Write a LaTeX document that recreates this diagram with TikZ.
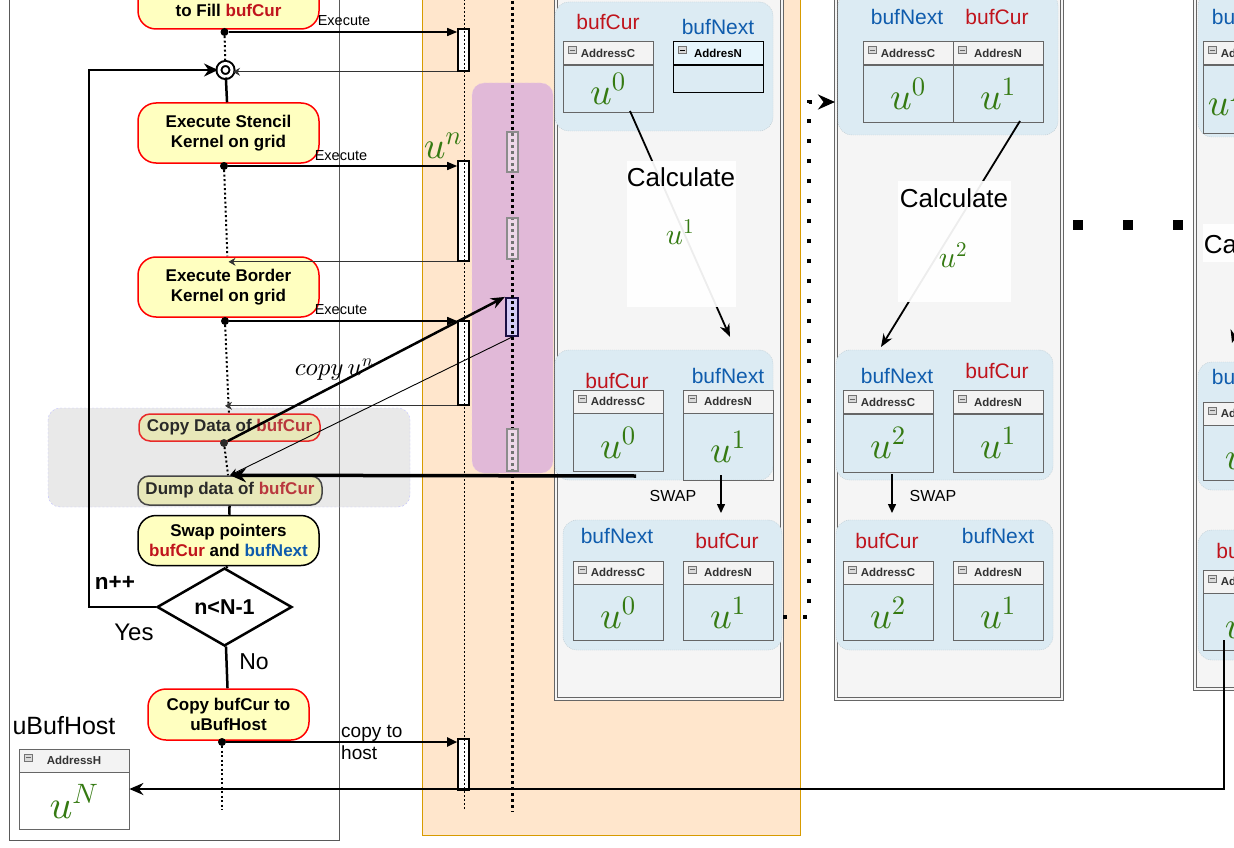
\documentclass[tikz,border=0pt]{standalone}
\usepackage[no-math]{fontspec}
\setmainfont{Liberation Sans}
\usetikzlibrary{arrows.meta,shapes.geometric,positioning}
% scalable math fonts
\DeclareFontShape{OML}{cmm}{m}{it}{<-> cmmi10}{}
\DeclareFontShape{OT1}{cmr}{m}{n}{<-> cmr10}{}
\DeclareFontShape{OMS}{cmsy}{m}{n}{<-> cmsy10}{}

\definecolor{nodeyel}{HTML}{FFFFC0}
\definecolor{curred}{HTML}{C0141C}
\definecolor{nextblue}{HTML}{0F5CAD}
\definecolor{ugreen}{HTML}{357A12}
\definecolor{laneorange}{HTML}{FFE6CC}
\definecolor{laneline}{HTML}{D79B00}
\definecolor{bandpurple}{HTML}{E1B9D8}
\definecolor{panelgray}{HTML}{F5F5F5}
\definecolor{grpblue}{HTML}{DCEBF3}
\definecolor{hdrgray}{HTML}{F3F3F3}
\definecolor{hdrblue}{HTML}{E6F5FC}
\definecolor{tblline}{HTML}{666666}
\definecolor{navy}{HTML}{1A0F45}
\definecolor{lavender}{HTML}{D4CCF5}

\tikzset{
  act/.style={draw=red, line width=1.5pt, fill=nodeyel, rounded corners=18pt, minimum width=181pt, inner sep=0pt, align=center, font=\fontsize{17}{20}\selectfont\bfseries},
  actsm/.style={act, rounded corners=11pt},
  dot/.style={circle, fill=black, inner sep=0pt, minimum size=8pt},
  flowdot/.style={line width=2pt, dash pattern=on 2pt off 2.5pt},
  flow/.style={line width=2.5pt},
  msg/.style={line width=1.5pt, -{Triangle[length=10pt,width=8pt]}},
  ret/.style={line width=0.8pt, draw=black!80, -{Stealth[length=7pt,width=8pt]}},
  lbox/.style={draw, line width=1.6pt, fill=white, minimum width=11pt, inner sep=0pt},
  gbox/.style={draw=black!45, line width=1.6pt, fill=white, fill opacity=0.45, minimum width=11pt, inner sep=0pt},
  panel/.style={draw=tblline, line width=0.8pt, fill=panelgray},
  grp/.style={fill=grpblue, draw=grpblue!85!black, dash pattern=on 1pt off 1pt, rounded corners=14pt, inner sep=0pt},
  bufc/.style={text=curred, font=\fontsize{21}{24}\selectfont, inner sep=0pt},
  bufn/.style={text=nextblue, font=\fontsize{21}{24}\selectfont, inner sep=0pt},
  hdr/.style={draw=tblline, line width=0.8pt, fill=hdrgray, text=black!80, minimum width=90pt, minimum height=23pt, inner sep=0pt,
    font=\fontsize{11.5}{12}\selectfont\bfseries,
    path picture={
      \draw[draw=black!55, fill=black!15, line width=0.6pt] ([shift={(5pt,-5pt)}]path picture bounding box.north west) rectangle ++(8pt,-7pt);
      \draw[line width=0.9pt] ([shift={(6.5pt,-8.5pt)}]path picture bounding box.north west) -- ++(5pt,0pt);
    }},
  hdrsel/.style={hdr, draw=black, fill=hdrblue, text=black},
  cell/.style={draw=tblline, line width=0.8pt, minimum width=90pt, inner sep=0pt, text=ugreen, font=\fontsize{38}{40}\selectfont},
  calcbox/.style={fill=white, fill opacity=0.93, inner sep=0pt},
  calctxt/.style={font=\fontsize{26}{28}\selectfont, inner sep=0pt},
  ulbl/.style={text=ugreen, font=\fontsize{30}{32}\selectfont, inner sep=0pt},
  swaptxt/.style={font=\fontsize{16}{18}\selectfont, inner sep=0pt},
  exe/.style={font=\fontsize{14.5}{16}\selectfont, inner sep=0pt},
  calcarrow/.style={line width=1.8pt, -{Stealth[length=13pt,width=10pt]}},
}

\begin{document}
\begin{tikzpicture}[x=1pt,y=-1pt]
\useasboundingbox (0,0) rectangle (1234,848);
\clip (0,0) rectangle (1234,848);

% lanes
\draw[draw=black!65, line width=0.8pt] (9,-5) rectangle (339,840);
\draw[fill=laneorange, draw=laneline, line width=1pt] (422,-5) rectangle (800,835);
\draw[fill=bandpurple, draw=bandpurple!70!white, dashed, rounded corners=12pt] (472,83) rectangle (553,473);

% device buffers, three steps
\draw[panel] (554,-5) rectangle (783,700);
\draw[draw=tblline, line width=0.8pt] (557,-5) rectangle (780,697);
\draw[panel] (834,-5) rectangle (1063,700);
\draw[draw=tblline, line width=0.8pt] (837,-5) rectangle (1060,697);
\draw[panel] (1193,-5) rectangle (1400,690);
\draw[draw=tblline, line width=0.8pt] (1196,-5) rectangle (1397,687);

\node[grp, minimum width=218pt, minimum height=129pt] (ga1) at (664,66.5) {};
\node[bufc] (ga1cur) at (608,22) {bufCur};
\node[bufn] (ga1next) at (718,27) {bufNext};
\node[hdr] (a1ch) at (608,53) {AddressC};
\node[cell, minimum height=47pt, below=0pt of a1ch] (a1c) {$u^0$};
\node[hdrsel] (a1nh) at (718,53) {AddresN};
\node[cell, draw=black, minimum height=27pt, below=0pt of a1nh] (a1n) {};

\node[grp, minimum width=218pt, minimum height=130pt] (ga2) at (664,415) {};
\node[bufc] (ga2cur) at (617,381) {bufCur};
\node[bufn] (ga2next) at (728,376) {bufNext};
\node[hdr] (a2ch) at (618,401.5) {AddressC};
\node[cell, minimum height=58pt, below=0pt of a2ch] (a2c) {$u^0$};
\node[hdr] (a2nh) at (728,401.5) {AddresN};
\node[cell, minimum height=67pt, below=0pt of a2nh] (a2n) {$u^1$};

\node[grp, minimum width=219pt, minimum height=130pt] (ga3) at (672.5,585) {};
\node[bufn] (ga3next) at (617,536) {bufNext};
\node[bufc] (ga3cur) at (727,541) {bufCur};
\node[hdr] (a3ch) at (618,572.5) {AddressC};
\node[cell, minimum height=56pt, below=0pt of a3ch] (a3c) {$u^0$};
\node[hdr] (a3nh) at (728,572.5) {AddresN};
\node[cell, minimum height=56pt, below=0pt of a3nh] (a3n) {$u^1$};

\node[grp, minimum width=220pt, minimum height=143pt] (gb1) at (948,63.5) {};
\node[bufn] (gb1next) at (907,17) {bufNext};
\node[bufc] (gb1cur) at (997,17) {bufCur};
\node[hdr] (b1ch) at (908,53) {AddressC};
\node[cell, minimum height=57pt, below=0pt of b1ch] (b1c) {$u^0$};
\node[hdr] (b1nh) at (998,53) {AddresN};
\node[cell, minimum height=57pt, below=0pt of b1nh] (b1n) {$u^1$};

\node[grp, minimum width=217pt, minimum height=130pt] (gb2) at (944.5,415) {};
\node[bufn] (gb2next) at (897,376) {bufNext};
\node[bufc] (gb2cur) at (997,371) {bufCur};
\node[hdr] (b2ch) at (888,402) {AddressC};
\node[cell, minimum height=58pt, below=0pt of b2ch] (b2c) {$u^2$};
\node[hdr] (b2nh) at (998,402) {AddresN};
\node[cell, minimum height=58pt, below=0pt of b2nh] (b2n) {$u^1$};

\node[grp, minimum width=217pt, minimum height=130pt] (gb3) at (944.5,585) {};
\node[bufc] (gb3cur) at (887,541) {bufCur};
\node[bufn] (gb3next) at (998,536) {bufNext};
\node[hdr] (b3ch) at (888,572.5) {AddressC};
\node[cell, minimum height=56pt, below=0pt of b3ch] (b3c) {$u^2$};
\node[hdr] (b3nh) at (998,572.5) {AddresN};
\node[cell, minimum height=56pt, below=0pt of b3nh] (b3n) {$u^1$};

\node[grp, minimum width=218pt, minimum height=145pt] (gc1) at (1307,64.5) {};
\node[bufn] (gc1next) at (1248,17) {bufNext};
\node[hdr] (c1ch) at (1248,53) {AddressC};
\node[cell, minimum height=68pt, below=0pt of c1ch] (c1c) {$u^{N-1}$};
\node[grp, minimum width=218pt, minimum height=128pt] (gc2) at (1307,426) {};
\node[bufn] (gc2next) at (1248,377) {bufNext};
\node[hdr] (c2ch) at (1248,413.5) {AddressC};
\node[cell, minimum height=55pt, below=0pt of c2ch] (c2c) {$u^N$};
\node[grp, minimum width=218pt, minimum height=130pt] (gc3) at (1307,595) {};
\node[bufc] (gc3cur) at (1248,551) {bufCur};
\node[hdr] (c3ch) at (1248,581.5) {AddressC};
\node[cell, minimum height=57pt, below=0pt of c3ch] (c3c) {$u^N$};

% calculate steps
\coordinate (a1out) at (630,111);
\coordinate (a2in) at (730,337);
\coordinate (b1out) at (1020,121);
\coordinate (b2in) at (881,347);
\coordinate (c1out) at (1290,130);
\coordinate (c2in) at (1232,343);
\draw[calcarrow] (a1out) -- (a2in);
\draw[calcarrow] (b1out) -- (b2in);
\draw[calcarrow] (c1out) -- (c2in);
\node[calcbox, minimum width=109pt, minimum height=146pt] (calcA) at (681.5,234) {};
\node[calctxt] (calcAt) at (681,177) {Calculate};
\node[ulbl] (calcAu) at (680,232) {$u^1$};
\node[calcbox, minimum width=113pt, minimum height=121pt] (calcB) at (954.5,241.5) {};
\node[calctxt] (calcBt) at (954,198) {Calculate};
\node[ulbl] (calcBu) at (953,255) {$u^2$};
\node[calcbox, minimum width=110pt, minimum height=38pt] (calcC) at (1258,243) {};
\node[calctxt] (calcCt) at (1258,244) {Calculate};

% swaps
\coordinate (swapA1) at (721,475);
\coordinate (swapA2) at (721,513);
\coordinate (swapB1) at (892,474);
\coordinate (swapB2) at (892,513);
\draw[line width=1.5pt, -{Triangle[length=9pt,width=8pt]}] (swapA1) -- (swapA2);
\draw[line width=1.5pt, -{Triangle[length=9pt,width=8pt]}] (swapB1) -- (swapB2);
\node[swaptxt] (swapAt) at (673,496) {SWAP};
\node[swaptxt] (swapBt) at (933,496) {SWAP};

% next iterations
\coordinate (panAexit) at (783,617);
\coordinate (panBentry) at (835,102);
\draw[line width=4pt, dash pattern=on 4pt off 16pt, -{Stealth[length=17pt,width=15pt]}] (panAexit) -- ++(26,0) |- (panBentry);
\coordinate (gapB) at (1073,225);
\coordinate (gapC) at (1183,225);
\draw[line width=10pt, dash pattern=on 10pt off 40pt] (gapB) -- (gapC);

% lifelines
\node[lbox, minimum height=42pt] (act1) at (463.5,50) {};
\node[lbox, minimum height=100pt] (act2) at (463.5,211) {};
\node[lbox, minimum height=84pt] (act3) at (463.5,363) {};
\node[lbox, minimum height=51pt] (act4) at (463.5,764.5) {};
\node[draw=navy, line width=2.2pt, fill=lavender, minimum width=12pt, minimum height=38pt, inner sep=0pt] (actd) at (512,317) {};
\coordinate (ll1top) at (464.5,-5);
\coordinate (ll1end) at (464.5,810);
\coordinate (ll2top) at (512.5,-5);
\coordinate (ll2end) at (512.5,812);
\draw[line width=1.5pt, dash pattern=on 2pt off 2pt] (ll1top) -- (ll1end);
\draw[line width=2.5pt, dash pattern=on 3pt off 3pt] (ll2top) -- (ll2end);
\node[gbox, minimum height=40pt] (gact1) at (512.5,152) {};
\node[gbox, minimum height=41pt] (gact2) at (512.5,238.5) {};
\node[gbox, minimum height=42pt] (gact3) at (512.5,450) {};

% host flow
\node[act, minimum height=52pt] (fill) at (228.5,3) {\strut\\to Fill \textcolor{curred}{bufCur}\strut};
\node[circle, draw, line width=2pt, double, double distance=3pt, fill=white, minimum size=13pt, inner sep=0pt] (merge) at (225.5,70) {};
\node[act, minimum height=60pt] (stencil) at (228.5,133) {Execute Stencil\\Kernel on grid};
\node[act, minimum height=60pt] (border) at (228.5,287) {Execute Border\\Kernel on grid};
\node[actsm, minimum height=27pt] (copydata) at (229.5,427.5) {Copy Data of \textcolor{curred}{bufCur}};
\node[actsm, draw=black!85, minimum width=184pt, minimum height=29pt] (dump) at (230,490.5) {Dump data of \textcolor{curred}{bufCur}};
\node[act, draw=black, minimum height=50pt] (swap) at (228.5,540.5) {Swap pointers\\\textcolor{curred}{bufCur} and \textcolor{nextblue}{bufNext}};
\node[draw, diamond, line width=2.5pt, fill=white, minimum width=135pt, minimum height=78pt, inner sep=0pt, font=\fontsize{21.5}{23}\selectfont\bfseries] (cond) at (224.5,607) {n<N-1};
\node[act, minimum width=161pt, minimum height=51pt] (tohost) at (228.5,714.5) {Copy bufCur to\\uBufHost};

\node[dot] (d1) at (224.5,32) {};
\node[dot] (d2) at (224,166) {};
\node[dot] (d3) at (225,321) {};
\node[dot] (d4) at (224,443) {};
\node[dot] (d5) at (222,742) {};

\draw[draw=blue!25, dash pattern=on 2pt off 2pt, fill=black!35, fill opacity=0.25, rounded corners=12pt] (48,408) rectangle (410,507);

\draw[flowdot] (d1) -- (merge);
\draw[flow] (merge) -- (stencil);
\draw[flowdot] (d2) -- (border);
\draw[flowdot] (d3) -- (copydata);
\draw[flowdot] (d4) -- (dump);
\draw[flow] (dump) -- (swap);
\draw[flow] (swap) -- (cond);
\draw[flow] (cond) -- (tohost);
\coordinate (hostend) at (222,810);
\draw[flowdot] (d5) -- (hostend);
\draw[line width=2.5pt, -{Stealth[length=14pt,width=13pt]}] (cond.west) -- ++(-67,0) |- (merge.west);
\node[font=\fontsize{22.5}{24}\selectfont\bfseries, inner sep=0pt] (incr) at (115,583) {n++};
\node[font=\fontsize{24}{26}\selectfont, inner sep=0pt] (yeslbl) at (134,632) {Yes};
\node[font=\fontsize{23}{25}\selectfont, inner sep=0pt] (nolbl) at (254,662) {No};

% kernel calls
\draw[msg] (d1) -- (d1 -| act1.west);
\draw[msg] (d2) -- (d2 -| act2.west);
\draw[msg] (d3) -- (d3 -| act3.west);
\node[exe] (exe1) at (344,21) {Execute};
\node[exe] (exe2) at (341,156) {Execute};
\node[exe] (exe3) at (341,310) {Execute};
\draw[ret] (act1.south west) -- (act1.south west -| merge.east);
\draw[ret] (act2.south west) -- (act2.south west -| border.north);
\draw[ret] (act3.south west) -- (act3.south west -| d3);
\node[ulbl, font=\fontsize{38}{40}\selectfont] (unlbl) at (443,146) {$u^n$};

% copy and dump
\draw[line width=2.5pt, -{Stealth[length=14pt,width=11pt]}] (d4) -- (actd.north west);
\node[font=\fontsize{25}{27}\selectfont, inner sep=0pt] (cpylbl) at (334,370) {$copy\,u^n$};
\draw[line width=0.9pt, -{Stealth[length=8pt,width=7pt]}] (actd.south) -- (dump.north);
\coordinate (a2out) at (636,476);
\draw[line width=3.5pt, -{Stealth[length=16pt,width=14pt]}] (a2out) -- (dump.north);

% copy to host
\draw[line width=2pt, -{Triangle[length=10pt,width=9pt]}] (d5) -- (d5 -| act4.west);
\node[anchor=west, align=left, font=\fontsize{19}{22}\selectfont, inner sep=0pt] (hostlbl) at (341,742) {copy to\\host};
\node[font=\fontsize{25}{27}\selectfont, inner sep=0pt] (hostname) at (64,726) {uBufHost};
\node[hdr, minimum width=110pt] (hosth) at (74,760.5) {AddressH};
\node[cell, minimum width=110pt, minimum height=57pt, font=\fontsize{40}{42}\selectfont, below=0pt of hosth] (hostc) {$u^N$};
\coordinate (c3out) at (1224,640);
\coordinate (c3down) at (1224,789);
\draw[line width=2.2pt, -{Stealth[length=14pt,width=12pt]}] (c3out) -- (c3down) -- (c3down -| hostc.east);
\end{tikzpicture}
\end{document}
